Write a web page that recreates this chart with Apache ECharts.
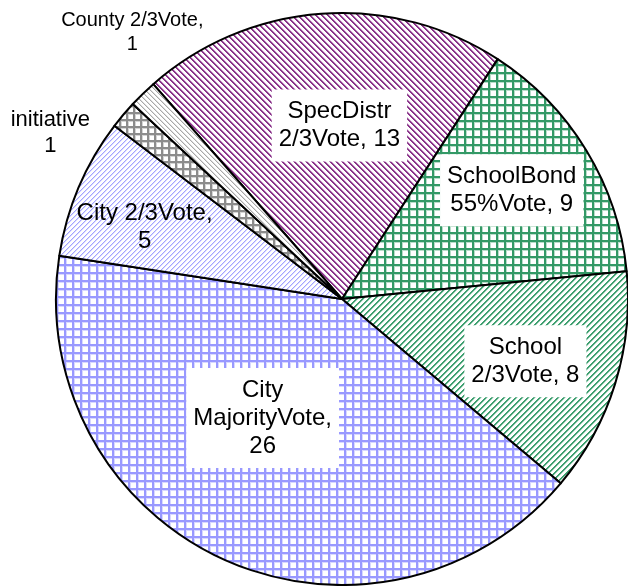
<!DOCTYPE html>
<html>
<head>
<meta charset="utf-8">
<script src="https://cdn.jsdelivr.net/npm/echarts@6/dist/echarts.min.js"></script>
<style>
html,body{margin:0;padding:0;background:#fff;}
#chart{width:628px;height:586px;}
</style>
</head>
<body>
<div id="chart"></div>
<script>
// ---- data ----
const categories = ['SpecDistr 2/3Vote', 'SchoolBond 55%Vote', 'School 2/3Vote', 'City MajorityVote', 'City 2/3Vote', 'initiative', 'County 2/3Vote'];
const values = [13, 9, 8, 26, 5, 1, 1];
const labelTexts = ['SpecDistr\n2/3Vote, ', 'SchoolBond\n55%Vote, ', 'School\n2/3Vote, ', 'City\nMajorityVote,\n', 'City 2/3Vote,\n', 'initiative\n', 'County 2/3Vote,\n'];

// ---- styling ----
function makePattern(kind, color, P, w, fringe) {
  const c = document.createElement('canvas');
  c.width = P; c.height = P;
  const ctx = c.getContext('2d');
  ctx.fillStyle = '#ffffff';
  ctx.fillRect(0, 0, P, P);
  for (let x = 0; x < P; x++) {
    for (let y = 0; y < P; y++) {
      let d;
      if (kind === 'down') d = (((x - y) % P) + P) % P;
      else if (kind === 'up') d = ((x + y) % P);
      else if (kind === 'grid') d = Math.min(x % P, y % P);
      if (d < w) { ctx.fillStyle = color; ctx.fillRect(x, y, 1, 1); }
      else if (fringe && d === w) { ctx.fillStyle = fringe; ctx.fillRect(x, y, 1, 1); }
    }
  }
  return { image: c, repeat: 'repeat' };
}
const fills = [
  makePattern('down', '#8a348a', 6, 2, '#d6b4d6'),
  makePattern('grid', '#339966', 8, 2, '#b8dcc9'),
  makePattern('up', '#3f9f70', 6, 2, '#bfe0cf'),
  makePattern('grid', '#9999ff', 8, 2, '#d8d8ff'),
  makePattern('up', '#a3a3ff', 5, 1, '#dcdcff'),
  makePattern('grid', '#8c8c8c', 7, 2, '#d4d4d4'),
  makePattern('down', '#a8a8a8', 5, 1, '#dedede')
];
const offsets = [[8, -28], [45, -33], [44, 19], [-19, -14], [-63, -15], [-180, -72], [-108, -162]];
const boxed = [true, true, true, true, false, false, false];
const fontSizes = [24, 24, 24, 24, 24, 22, 20];

const data = categories.map((name, i) => ({
  name: name,
  value: values[i],
  itemStyle: { color: fills[i] },
  label: {
    show: true,
    position: 'inside',
    offset: offsets[i],
    formatter: labelTexts[i] + values[i],
    color: '#000',
    fontSize: fontSizes[i],
    lineHeight: fontSizes[i] + 4,
    fontFamily: 'Liberation Sans, Arial, sans-serif',
    backgroundColor: boxed[i] ? '#ffffff' : 'transparent',
    padding: boxed[i] ? [8, 7] : 0,
    align: 'center'
  }
}));

const chart = echarts.init(document.getElementById('chart'), null, { renderer: 'canvas' });
chart.setOption({
  animation: false,
  backgroundColor: '#ffffff',
  series: [{
    type: 'pie',
    center: [342, 299],
    radius: 286,
    startAngle: 131.3,
    clockwise: true,
    avoidLabelOverlap: false,
    labelLine: { show: false },
    itemStyle: { borderColor: '#000', borderWidth: 2 },
    emphasis: { disabled: true },
    data: data
  }]
});
</script>
</body>
</html>
